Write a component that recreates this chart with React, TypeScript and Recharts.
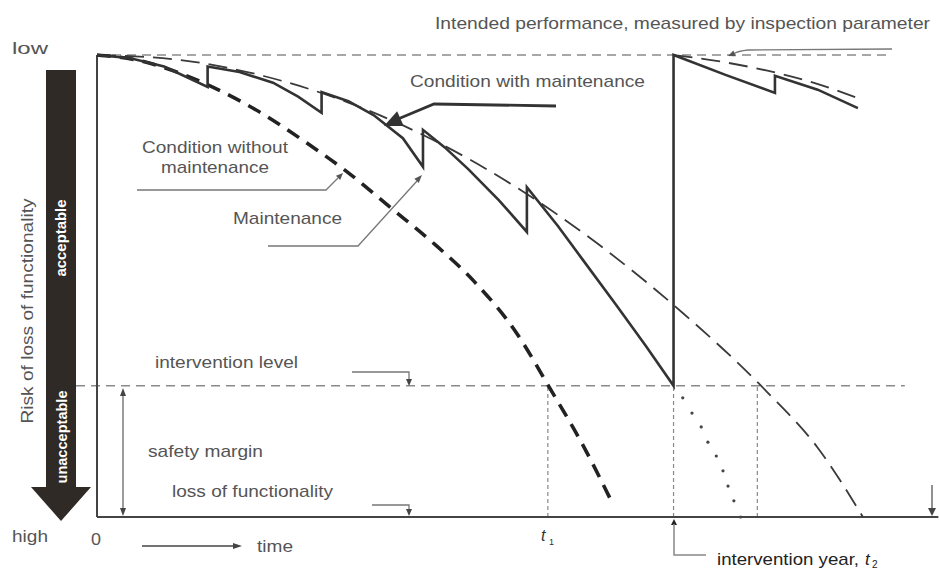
import React from "react";
import { ComposedChart, Line, XAxis, YAxis, ReferenceLine } from "recharts";

// time in % of horizon, condition in % (100 = intended performance, 0 = loss of functionality)
const noMaintT = [0, 5, 10, 15, 20, 25, 30, 35, 40, 45, 50, 54, 58, 61.5];
const noMaintC = [100, 98.8, 96, 92, 87, 81, 74.5, 67, 59.5, 51, 40, 28, 15.5, 3];

const envT = [0, 10, 20, 30, 40, 50, 60, 70, 80, 86, 91.4];
const envC = [100, 98.9, 95.4, 89.7, 81.7, 71.4, 58.8, 44, 27, 15, 0];

const maintT = [0, 4, 8, 13.2, 13.2, 17, 21, 24, 26.8, 26.8, 30, 33, 36.5, 38.9, 38.9, 41.5, 44.3, 48, 51.3, 51.3, 55, 58, 62, 65.5, 68.8, 68.8, 75, 80.9, 80.9, 86, 90.8];
const maintC = [100, 99.3, 97.5, 93.1, 97.5, 96.3, 94, 91, 87.5, 92, 90, 87, 82, 75.8, 83.8, 80, 75.3, 68.5, 61.7, 71.4, 63, 55.6, 45.8, 37, 28.4, 100, 95.7, 91.8, 95.5, 92.5, 88.5];

const env2T = [68.8, 75, 80, 85, 91.3];
const env2C = [100, 98.4, 96.6, 94.3, 90.3];

const noInterT = [69.9, 71.0, 72.1, 72.9, 73.9, 74.7, 75.3, 76.0, 76.8];
const noInterC = [25.8, 22.5, 19.5, 16.2, 13.2, 10.0, 6.7, 3.5, 0];

const INTERVENTION = 28.4;
const T1 = 53.8;
const T2 = 68.8;
const T3 = 78.8;

const zip = (t: number[], c: number[]) => t.map((v, i) => ({ t: v, c: c[i] }));

const noMaint = zip(noMaintT, noMaintC);
const envelope = zip(envT, envC);
const maint = zip(maintT, maintC);
const envelope2 = zip(env2T, env2C);
const noInter = zip(noInterT, noInterC);

const FONT = "'Liberation Sans', Arial, sans-serif";
const GREY = "#555";

function Head({ x, y, dx, dy, s = 7, w = 3, color = "#444" }: any) {
  const len = Math.hypot(dx, dy);
  const ux = dx / len, uy = dy / len;
  const bx = x - ux * s, by = y - uy * s;
  const pts = `${x},${y} ${bx - uy * w},${by + ux * w} ${bx + uy * w},${by - ux * w}`;
  return <polygon points={pts} fill={color} />;
}

function Label({ x, y, len, children, size = 17, color = GREY, anchor = "start", weight = "normal", rotate = 0 }: any) {
  return (
    <text
      x={x} y={y} fontSize={size} fill={color} fontFamily={FONT} fontWeight={weight}
      textAnchor={anchor} textLength={len} lengthAdjust="spacingAndGlyphs"
      transform={rotate ? `rotate(${rotate} ${x} ${y})` : undefined}
    >
      {children}
    </text>
  );
}

function Overlay() {
  const pointer = { stroke: "#777", strokeWidth: 1.3, fill: "none" };
  return (
    <svg width={939} height={569} style={{ position: "absolute", left: 0, top: 0, pointerEvents: "none" }}>
      {/* big risk arrow */}
      <rect x={46} y={70} width={30} height={418} fill="#2f2a25" />
      <polygon points="31,487 91,487 61,521" fill="#2f2a25" />
      <Label x={66} y={238} len={77} size={15} color="#fff" weight="bold" anchor="middle" rotate={-90}>acceptable</Label>
      <Label x={67} y={437} len={93} size={15} color="#fff" weight="bold" anchor="middle" rotate={-90}>unacceptable</Label>
      <Label x={33} y={311} len={225} anchor="middle" rotate={-90}>Risk of loss of functionality</Label>

      <Label x={12} y={54} len={36}>low</Label>
      <Label x={12} y={542} len={36}>high</Label>
      <Label x={91} y={545} len={10}>0</Label>
      <Label x={257} y={552} len={36}>time</Label>
      <line x1={142} y1={546} x2={234} y2={546} stroke="#444" strokeWidth={1.3} />
      <Head x={242} y={546} dx={1} dy={0} s={9} w={3} />

      <Label x={435} y={29} len={495}>Intended performance, measured by inspection parameter</Label>
      <path d="M892,49 L748,50 Q738,51 733,54" {...pointer} />
      <Head x={728} y={56} dx={-1} dy={0.4} s={7} w={3} color="#555" />

      <Label x={410} y={87} len={235}>Condition with maintenance</Label>
      <path d="M556,106 L434,104 L398,119" stroke="#333" strokeWidth={2.8} fill="none" />
      <Head x={384} y={126} dx={-1} dy={0.45} s={18} w={8} color="#333" />

      <Label x={142} y={153} len={146}>Condition without</Label>
      <Label x={161} y={173} len={108}>maintenance</Label>
      <path d="M137,190 L326,190 L338,178" {...pointer} />
      <Head x={343} y={173} dx={1} dy={-1} s={7} w={3} color="#555" />

      <Label x={233} y={224} len={109}>Maintenance</Label>
      <path d="M268,246 L358,246 L417,181" {...pointer} />
      <Head x={422} y={175} dx={0.7} dy={-0.75} s={8} w={3} color="#555" />

      <Label x={155} y={368} len={143}>intervention level</Label>
      <path d="M352,372 L409,372 L409,380" {...pointer} />
      <Head x={409} y={386} dx={0} dy={1} s={7} w={3} />

      <Label x={148} y={457} len={115}>safety margin</Label>
      <line x1={123} y1={394} x2={123} y2={510} stroke="#666" strokeWidth={1.3} />
      <Head x={123} y={388} dx={0} dy={-1} s={8} w={3} />
      <Head x={123} y={516} dx={0} dy={1} s={8} w={3} />

      <Label x={172} y={497} len={161}>loss of functionality</Label>
      <path d="M372,505 L409,505 L409,510" {...pointer} />
      <Head x={409} y={516} dx={0} dy={1} s={7} w={3} />

      <line x1={932} y1={485} x2={932} y2={509} stroke="#555" strokeWidth={1.3} />
      <Head x={932} y={516} dx={0} dy={1} s={8} w={4} />

      <text x={541} y={541} fontSize={16} fontStyle="italic" fill="#333" fontFamily={FONT}>t</text>
      <text x={549} y={545} fontSize={9} fill="#333" fontFamily={FONT}>1</text>

      <Head x={674} y={519} dx={0} dy={-1} s={6} w={3} color="#222" />
      <path d="M674,524 L674,555 L706,555" stroke="#888" strokeWidth={1.5} fill="none" />
      <Label x={717} y={565} len={142} color="#222">intervention year,</Label>
      <text x={865} y={565} fontSize={17} fontStyle="italic" fill="#222" fontFamily={FONT}>t</text>
      <text x={872} y={568} fontSize={10} fill="#222" fontFamily={FONT}>2</text>
    </svg>
  );
}

export default function App() {
  const ref = { stroke: "#8a8a8a", strokeWidth: 1.5, strokeDasharray: "9 6", ifOverflow: "visible" as const };
  const drop = { stroke: "#888", strokeWidth: 1.2, strokeDasharray: "4 3", ifOverflow: "visible" as const };
  const axis = { stroke: "#444", strokeWidth: 2, ifOverflow: "visible" as const };
  return (
    <div style={{ position: "absolute", left: 0, top: 0, width: 939, height: 569, background: "#fff" }}>
      <ComposedChart width={939} height={569} margin={{ top: 55, right: 4, bottom: 52, left: 97 }}>
        <XAxis type="number" dataKey="t" domain={[0, 100]} hide />
        <YAxis type="number" dataKey="c" domain={[0, 100]} hide />
        <ReferenceLine segment={[{ x: 0, y: 100 }, { x: 94.6, y: 100 }]} {...ref} />
        <ReferenceLine segment={[{ x: -2.5, y: INTERVENTION }, { x: 96.4, y: INTERVENTION }]} {...ref} />
        <ReferenceLine segment={[{ x: T1, y: 0 }, { x: T1, y: INTERVENTION }]} {...drop} />
        <ReferenceLine segment={[{ x: T2, y: 0 }, { x: T2, y: INTERVENTION }]} {...drop} />
        <ReferenceLine segment={[{ x: T3, y: 0 }, { x: T3, y: INTERVENTION }]} {...drop} />
        <ReferenceLine segment={[{ x: 0, y: 0 }, { x: 0, y: 100 }]} {...axis} />
        <ReferenceLine segment={[{ x: 0, y: 0 }, { x: 100.4, y: 0 }]} {...axis} />
        <Line data={envelope} dataKey="c" type="monotone" stroke="#3a3a3a" strokeWidth={1.8}
          strokeDasharray="19 9" dot={false} isAnimationActive={false} />
        <Line data={envelope2} dataKey="c" type="monotone" stroke="#3a3a3a" strokeWidth={1.8}
          strokeDasharray="19 9" dot={false} isAnimationActive={false} />
        <Line data={noMaint} dataKey="c" type="monotone" stroke="#222" strokeWidth={3.6}
          strokeDasharray="14 9" dot={false} isAnimationActive={false} />
        <Line data={maint} dataKey="c" type="linear" stroke="#333" strokeWidth={2.6}
          dot={false} isAnimationActive={false} />
        <Line data={noInter} dataKey="c" type="linear" stroke="none"
          dot={{ r: 1.6, fill: "#444", stroke: "none" }} isAnimationActive={false} />
      </ComposedChart>
      <Overlay />
    </div>
  );
}
